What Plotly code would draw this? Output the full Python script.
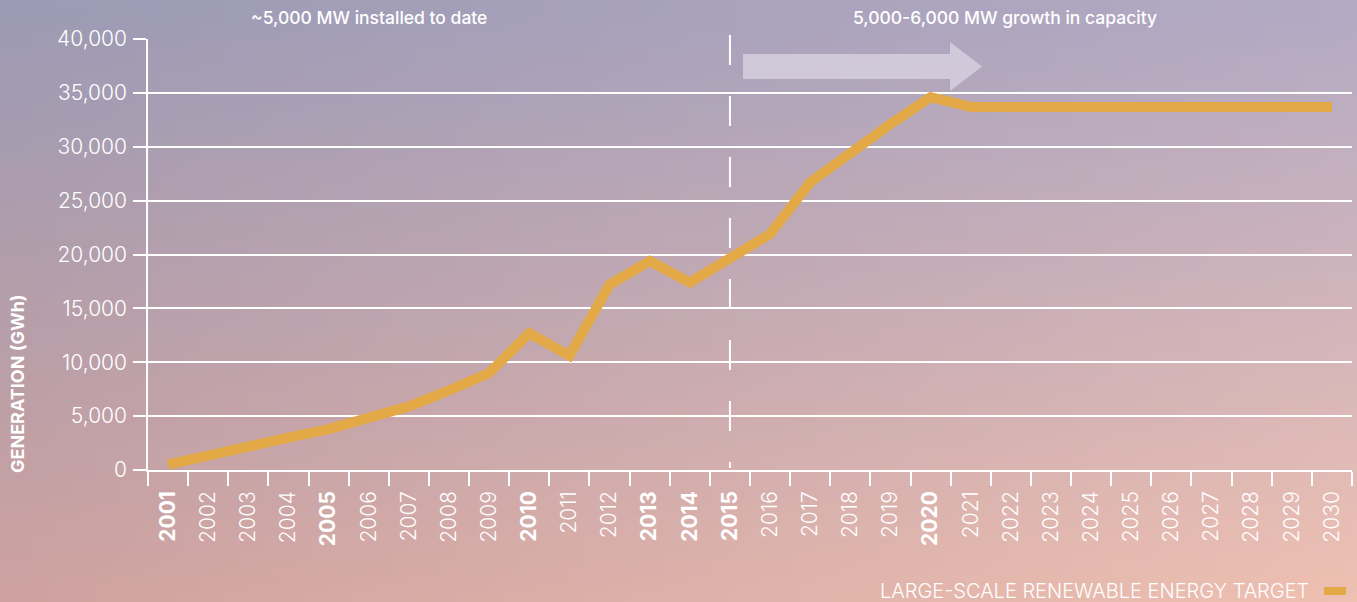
import base64, struct, zlib
import plotly.graph_objects as go

# ---------------- data ----------------
years = [str(y) for y in range(2001, 2031)]
generation_gwh = [500, 1400, 2200, 3000, 3800, 4800, 5900, 7400, 9000, 12700,
                  10600, 17200, 19400, 17400, 19600, 21900, 26700, 29500, 32100, 34600,
                  33700, 33700, 33700, 33700, 33700, 33700, 33700, 33700, 33700, 33700]
bold_years = ["2001", "2005", "2010", "2013", "2014", "2015", "2020"]
divider_year = "2015"
y_ticks = [0, 5000, 10000, 15000, 20000, 25000, 30000, 35000, 40000]
series_name = "LARGE-SCALE RENEWABLE ENERGY TARGET"
left_note = "~5,000 MW installed to date"
right_note = "5,000-6,000 MW growth in capacity"
y_title = "GENERATION (GWh)"

# ---------------- geometry ----------------
W, H = 1357, 602
L, R, T, B = 148, 5, 39, 132
PW, PH = W - L - R, H - T - B


def px_x(x):
    return (x - L) / PW


def px_y(y):
    return (H - B - y) / PH


# ---------------- background gradient (PNG data URI) ----------------
def gradient_png(w, h, tl, tr, bl, br):
    rows = []
    for j in range(h):
        v = j / (h - 1)
        row = bytearray([0])
        for i in range(w):
            u = i / (w - 1)
            for c in range(3):
                top = tl[c] * (1 - u) + tr[c] * u
                bot = bl[c] * (1 - u) + br[c] * u
                row.append(int(round(top * (1 - v) + bot * v)))
        rows.append(bytes(row))
    raw = b"".join(rows)

    def chunk(tag, data):
        c = struct.pack(">I", len(data)) + tag + data
        return c + struct.pack(">I", zlib.crc32(tag + data) & 0xFFFFFFFF)

    png = b"\x89PNG\r\n\x1a\n"
    png += chunk(b"IHDR", struct.pack(">IIBBBBB", w, h, 8, 2, 0, 0, 0))
    png += chunk(b"IDAT", zlib.compress(raw, 9))
    png += chunk(b"IEND", b"")
    return "data:image/png;base64," + base64.b64encode(png).decode()


bg = gradient_png(64, 32, (156, 154, 180), (180, 170, 196), (206, 162, 160), (238, 192, 178))

# ---------------- figure ----------------
FONT = "Inter"
LINE_COLOR = "#E2A946"

fig = go.Figure()
fig.add_trace(go.Scatter(
    x=years, y=generation_gwh, mode="lines", name=series_name,
    line=dict(color=LINE_COLOR, width=10), showlegend=False, hoverinfo="x+y",
))

ticktext = [f"<b>{y}</b>" if y in bold_years else y for y in years]

fig.update_layout(
    width=W, height=H,
    margin=dict(l=L, r=R, t=T, b=B, pad=0),
    paper_bgcolor="#b9a9b6", plot_bgcolor="rgba(0,0,0,0)",
    font=dict(family=FONT, color="white"),
    images=[dict(source=bg, xref="paper", yref="paper",
                 x=px_x(0), y=px_y(0), sizex=W / PW, sizey=H / PH,
                 xanchor="left", yanchor="top", sizing="stretch", layer="below")],
    xaxis=dict(
        type="category", categoryorder="array", categoryarray=years,
        range=[-0.5, len(years) - 0.5],
        tickmode="array", tickvals=years, ticktext=ticktext,
        tickangle=-90, tickson="boundaries", ticks="outside", ticklen=14,
        tickwidth=1.5, tickcolor="white", ticklabelstandoff=11,
        tickfont=dict(family=FONT, size=21, color="white", weight=300),
        showgrid=False, showline=True, linecolor="white", linewidth=1.5,
        zeroline=False, fixedrange=True,
    ),
    yaxis=dict(
        range=[0, 40000], tickmode="array", tickvals=y_ticks, tickformat=",",
        ticks="outside", ticklen=13, tickwidth=1.5, tickcolor="white",
        ticklabelstandoff=2,
        tickfont=dict(family=FONT, size=21, color="white", weight=300),
        showgrid=True, gridcolor="white", gridwidth=1.5,
        showline=True, linecolor="white", linewidth=1.5,
        zeroline=False, fixedrange=True,
    ),
)

# dashed divider at 2015 (category index)
div_idx = years.index(divider_year)
fig.add_shape(type="line", xref="x", yref="paper", x0=div_idx, x1=div_idx,
              y0=px_y(35), y1=px_y(468),
              line=dict(color="white", width=2, dash="30px,31px"))

# growth arrow
pts = [(743, 54), (950, 54), (950, 42), (982, 66.5), (950, 91), (950, 79), (743, 79)]
path = "M " + " L ".join(f"{px_x(x):.5f},{px_y(y):.5f}" for x, y in pts) + " Z"
fig.add_shape(type="path", xref="paper", yref="paper", path=path,
              fillcolor="rgba(240,236,246,0.5)", line=dict(width=0), layer="above")

# top notes
for txt, cx in [(left_note, 369), (right_note, 1004.5)]:
    fig.add_annotation(text=txt, xref="paper", yref="paper", x=px_x(cx), y=px_y(18),
                       showarrow=False, xanchor="center", yanchor="middle",
                       font=dict(family=FONT, size=17.5, color="white", weight=500))

# y-axis title
fig.add_annotation(text=f"<b>{y_title}</b>", xref="paper", yref="paper",
                   x=px_x(17), y=px_y(384), textangle=-90, showarrow=False,
                   xanchor="center", yanchor="middle",
                   font=dict(family=FONT, size=18, color="white"))

# legend (text + swatch on the right)
fig.add_annotation(text=series_name, xref="paper", yref="paper",
                   x=px_x(1311), y=px_y(591), showarrow=False,
                   xanchor="right", yanchor="middle",
                   font=dict(family=FONT, size=20, color="white", weight=300))
fig.add_shape(type="rect", xref="paper", yref="paper",
              x0=px_x(1324), x1=px_x(1346), y0=px_y(587), y1=px_y(595),
              fillcolor=LINE_COLOR, line=dict(width=0))

fig.write_html("out.html", config={"displayModeBar": False},
               post_script="document.body.style.margin='0';document.body.style.overflow='hidden';")
